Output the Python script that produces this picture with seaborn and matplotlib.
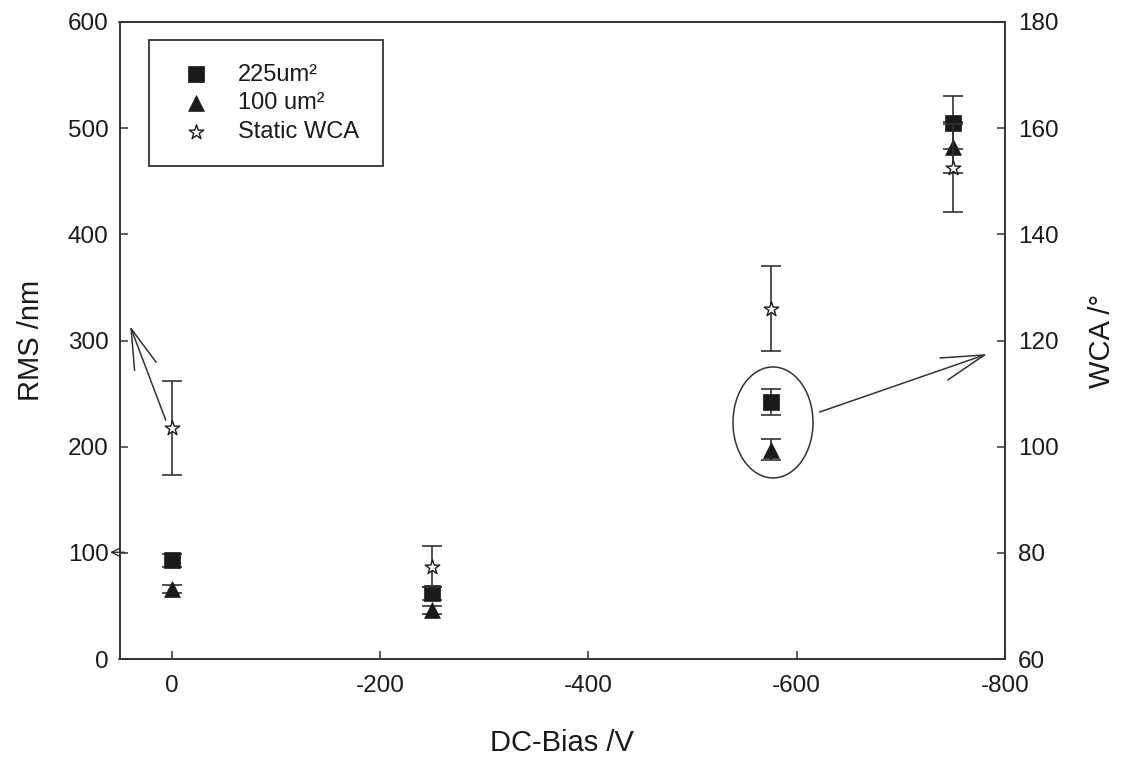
import matplotlib
matplotlib.use("Agg")
import matplotlib.pyplot as plt
from matplotlib.patches import Ellipse
import seaborn as sns
import pandas as pd

# ---- data ----
bias = [0, -250, -575, -750]
rms_225 = [93, 62, 242, 505]
rms_225_err = [6, 6, 12, 25]
rms_100 = [66, 46, 197, 482]
rms_100_err = [4, 4, 10, 24]
wca = [103.5, 77.4, 126, 152.5]
wca_err = [8.8, 3.9, 8, 8.2]

x_ticks = [0, -200, -400, -600, -800]
rms_ticks = [0, 100, 200, 300, 400, 500, 600]
wca_ticks = [60, 80, 100, 120, 140, 160, 180]
labels = ["225um\u00b2", "100 um\u00b2", "Static WCA"]

sns.set_theme(style="ticks")
plt.rcParams["font.family"] = ["Liberation Sans", "DejaVu Sans"]
plt.rcParams["axes.unicode_minus"] = False

INK = "#1a1a1a"
LINE = "#333333"

df = pd.DataFrame({"bias": bias, "r225": rms_225, "r100": rms_100, "wca": wca})

W, H = 1121, 758
fig = plt.figure(figsize=(W / 100, H / 100), dpi=100)
L, R, T, B = 119.5, 1005, 22, 659
ax = fig.add_axes([L / W, 1 - B / H, (R - L) / W, (B - T) / H])
ax2 = ax.twinx()

# error bars
ax.errorbar(bias, rms_225, yerr=rms_225_err, fmt="none", ecolor=LINE,
            elinewidth=1.2, capsize=7, capthick=1.2, zorder=2)
ax.errorbar(bias, rms_100, yerr=rms_100_err, fmt="none", ecolor=LINE,
            elinewidth=1.2, capsize=7, capthick=1.2, zorder=2)
ax2.errorbar(bias, wca, yerr=wca_err, fmt="none", ecolor=LINE,
             elinewidth=1.2, capsize=7, capthick=1.2, zorder=2)

sns.scatterplot(data=df, x="bias", y="r225", ax=ax, marker="s", s=120,
                color=INK, edgecolor=INK, linewidth=0.5, label=labels[0], zorder=3)
sns.scatterplot(data=df, x="bias", y="r100", ax=ax, marker="^", s=130,
                color=INK, edgecolor=INK, linewidth=0.5, label=labels[1], zorder=3)
sns.scatterplot(data=df, x="bias", y="wca", ax=ax2, marker="*", s=120,
                facecolor="white", edgecolor=INK, linewidth=1.0, label=labels[2], zorder=3)

for a in (ax, ax2):
    lg = a.get_legend()
    if lg is not None:
        lg.remove()

ax.set_xlim(50, -800)
ax.set_ylim(0, 600)
ax2.set_ylim(60, 180)
ax.set_xticks(x_ticks)
ax.set_xticklabels([str(v) for v in x_ticks])
ax.set_yticks(rms_ticks)
ax2.set_yticks(wca_ticks)

ax.tick_params(axis="both", direction="in", length=6, width=1.1, color=LINE,
               labelsize=17.5, labelcolor=INK, right=False, top=False)
ax.tick_params(axis="y", pad=8.0)
ax.tick_params(axis="x", pad=11.5)
ax2.tick_params(axis="y", direction="in", length=6, width=1.1, color=LINE,
                labelsize=17.5, labelcolor=INK, pad=9.4)

for a in (ax, ax2):
    for sp in a.spines.values():
        sp.set_color(LINE)
        sp.set_linewidth(1.2)
    a.grid(False)

ax.set_xlabel("DC-Bias /V", fontsize=21, color=INK, labelpad=23)
ax.set_ylabel("RMS /nm", fontsize=21, color=INK, labelpad=16)
ax2.set_ylabel("WCA /\u00b0", fontsize=21, color=INK, labelpad=21, rotation=90)

# annotations
ell = Ellipse((-577.3, 222.8), width=76.8, height=104.5, fill=False,
              edgecolor=LINE, linewidth=1.1, zorder=4)
ax.add_patch(ell)
ax.annotate("", xy=(-783, 287.3), xytext=(-622, 232.6),
            arrowprops=dict(arrowstyle="->,head_length=3.1,head_width=0.84",
                            mutation_scale=10, color=LINE, lw=1.1,
                            shrinkA=0, shrinkB=0), annotation_clip=False)
ax.annotate("", xy=(39.8, 313.6), xytext=(5.6, 225),
            arrowprops=dict(arrowstyle="->,head_length=2.9,head_width=0.83",
                            mutation_scale=10, color=LINE, lw=1.1,
                            shrinkA=0, shrinkB=0), annotation_clip=False)
ax.annotate("", xy=(59, 100.5), xytext=(45, 100.5),
            arrowprops=dict(arrowstyle="->,head_length=0.6,head_width=0.3",
                            mutation_scale=10, color=LINE, lw=1.0,
                            shrinkA=0, shrinkB=0), annotation_clip=False)

# legend
h1, l1 = ax.get_legend_handles_labels()
h2, l2 = ax2.get_legend_handles_labels()
leg = ax2.legend(h1 + h2, l1 + l2, loc="upper left",
                 bbox_to_anchor=(0.0333, 0.9717), borderaxespad=0,
                 fontsize=17, frameon=True, fancybox=False, framealpha=1,
                 edgecolor=LINE, borderpad=1.0, labelspacing=0.28,
                 handlelength=2.0, handletextpad=0.77, scatterpoints=1)
leg.get_frame().set_linewidth(1.3)
for t in leg.get_texts():
    t.set_color(INK)

fig.savefig("out.png", dpi=100)
